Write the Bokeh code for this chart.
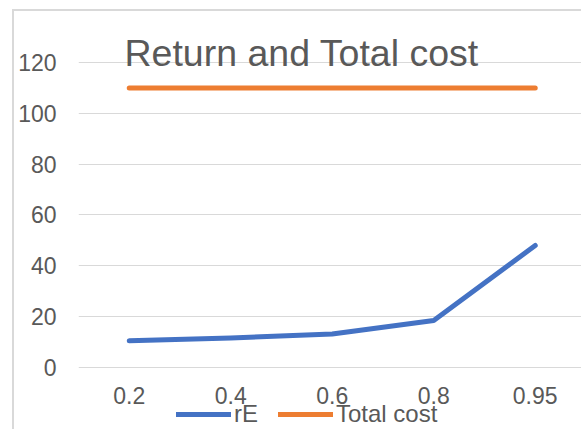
from bokeh.plotting import figure
from bokeh.models import Range1d, FixedTicker, Label, Legend, LegendItem, ColumnDataSource
from bokeh.embed import file_html
from bokeh.resources import INLINE

categories = ["0.2", "0.4", "0.6", "0.8", "0.95"]
rE = [10.5, 11.6, 13.2, 18.5, 48.0]
total_cost = [110, 110, 110, 110, 110]
y_ticks = [0, 20, 40, 60, 80, 100, 120]

positions = list(range(len(categories)))
src = ColumnDataSource(dict(x=positions, rE=rE, tc=total_cost))

FONT = "Liberation Sans"
TXT = "#595959"
GRID = "#d9d9d9"

p = figure(title=None, frame_width=503, frame_height=418,
           min_border_left=64, min_border_right=0, min_border_top=0, min_border_bottom=0,
           x_range=Range1d(-0.5, 4.456), y_range=Range1d(-24.39, 140.06),
           output_backend="svg", toolbar_location=None)
p.margin = (9, 0, 0, 12)
p.styles = {"border-left": "2px solid #d9d9d9", "border-top": "2px solid #d9d9d9"}
p.outline_line_color = None
p.background_fill_color = "white"
p.border_fill_color = "white"

p.xgrid.visible = False
p.ygrid.grid_line_color = GRID
p.ygrid.grid_line_width = 1.2
p.yaxis.ticker = FixedTicker(ticks=y_ticks)
p.xaxis.ticker = FixedTicker(ticks=positions)
p.xaxis.major_label_overrides = {i: c for i, c in enumerate(categories)}
p.xaxis.fixed_location = 0

for ax in (p.xaxis, p.yaxis):
    ax.axis_line_color = None
    ax.major_tick_line_color = None
    ax.minor_tick_line_color = None
    ax.major_tick_out = 0
    ax.major_tick_in = 0
    ax.minor_tick_out = 0
    ax.major_label_text_font = FONT
    ax.major_label_text_font_size = "23px"
    ax.major_label_text_color = TXT
p.yaxis.major_label_standoff = 22
p.xaxis.major_label_standoff = 19

r1 = p.line("x", "rE", source=src, line_color="#4472C4", line_width=5, line_cap="round", line_join="round")
r2 = p.line("x", "tc", source=src, line_color="#ED7D31", line_width=5, line_cap="round", line_join="round")

title = Label(x=46, y=377, x_units="screen", y_units="screen", text="Return and Total cost",
              text_font=FONT, text_font_size="37.5px", text_color=TXT, text_baseline="alphabetic")
p.add_layout(title)

legend = Legend(items=[LegendItem(label="rE", renderers=[r1]), LegendItem(label="Total cost", renderers=[r2])],
                orientation="horizontal", location=(98, 1), padding=0, margin=0, spacing=20,
                glyph_width=55, glyph_height=20, label_standoff=3, label_height=20,
                label_text_font=FONT, label_text_font_size="24px", label_text_color=TXT,
                border_line_color=None, background_fill_alpha=0)
p.add_layout(legend, "center")

open("out.html", "w").write(file_html(p, INLINE))
